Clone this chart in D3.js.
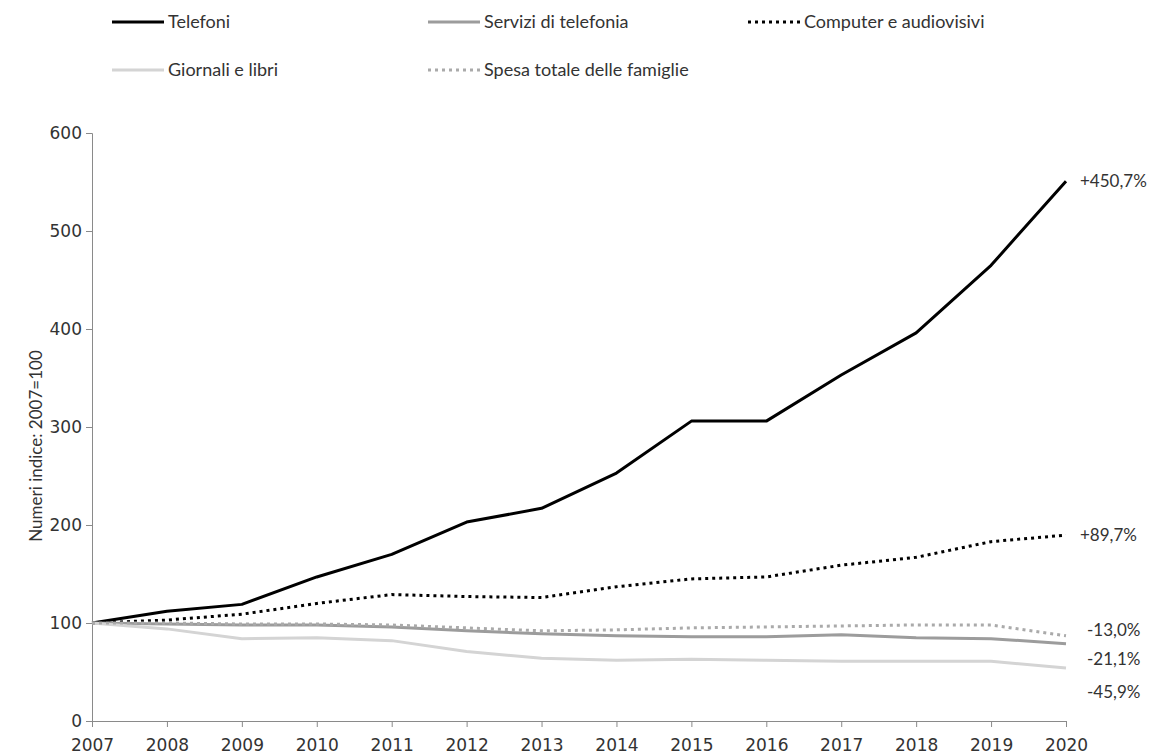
<!DOCTYPE html>
<html>
<head>
<meta charset="utf-8">
<script src="https://cdn.jsdelivr.net/npm/d3@7"></script>
<style>
  html, body { margin: 0; padding: 0; background: #ffffff; }
  svg { display: block; }
</style>
</head>
<body>
<svg id="chart" width="1154" height="755"></svg>
<script>
// ---------- DATA ----------
const years = [2007, 2008, 2009, 2010, 2011, 2012, 2013, 2014, 2015, 2016, 2017, 2018, 2019, 2020];
const yTicks = [0, 100, 200, 300, 400, 500, 600];
const seriesNames = ["Telefoni", "Servizi di telefonia", "Computer e audiovisivi", "Giornali e libri", "Spesa totale delle famiglie"];
const telefoni  = [100, 112, 119, 147, 170, 203, 217, 253, 306, 306, 353, 396, 465, 550.7];
const servizi   = [100, 99, 98, 98, 96, 92, 89, 87, 86, 86, 88, 85, 84, 78.9];
const computer  = [100, 103, 109, 120, 129, 127, 126, 137, 145, 147, 159, 167, 183, 189.7];
const giornali  = [100, 94, 84, 85, 82, 71, 64, 62, 63, 62, 61, 61, 61, 54.1];
const spesa     = [100, 100, 99, 99, 98, 95, 92, 93, 95, 96, 97, 98, 98, 87.0];
const yTitle = "Numeri indice: 2007=100";

// ---------- STYLES ----------
const styles = [
  { values: telefoni, color: "#000000", dash: null,  width: 3, labelDy: 0,  labelX: 14 },
  { values: servizi,  color: "#9c9c9c", dash: null,  width: 3, labelDy: 15, labelX: 21 },
  { values: computer, color: "#000000", dash: "3 4", width: 3, labelDy: 0,  labelX: 14 },
  { values: giornali, color: "#d4d4d4", dash: null,  width: 3, labelDy: 24, labelX: 21 },
  { values: spesa,    color: "#aaaaaa", dash: "3 4", width: 3, labelDy: -6, labelX: 21 }
];
const legendPos = [
  { x: 112, y: 22 }, { x: 428, y: 22 }, { x: 748, y: 22 },
  { x: 112, y: 70 }, { x: 428, y: 70 }
];

const svg = d3.select("#chart");
const x = d3.scaleLinear().domain([2007, 2020]).range([92, 1066]);
const y = d3.scaleLinear().domain([0, 600]).range([721, 133]);

const axisColor = "#8a8a8a";
const textColor = "#333333";
const tickFont = "'DejaVu Sans', Verdana, sans-serif";

// Y axis
const gy = svg.append("g").attr("transform", "translate(92,0)")
  .call(d3.axisLeft(y).tickValues(yTicks).tickSize(6).tickPadding(4).tickFormat(d3.format("d")));
gy.select(".domain").attr("stroke", axisColor);
gy.selectAll(".tick line").attr("stroke", axisColor);
gy.selectAll(".tick text").attr("fill", textColor).style("font-family", tickFont).style("font-size", "17px");

// X axis
const gx = svg.append("g").attr("transform", "translate(0,721)")
  .call(d3.axisBottom(x).tickValues(years).tickSize(6).tickPadding(12).tickFormat(d3.format("d")));
gx.select(".domain").attr("stroke", axisColor);
gx.selectAll(".tick line").attr("stroke", axisColor);
gx.selectAll(".tick text").attr("fill", textColor).style("font-family", tickFont).style("font-size", "17px");

// Y title
svg.append("text")
  .attr("transform", "translate(42,446) rotate(-90)")
  .attr("text-anchor", "middle")
  .attr("fill", textColor)
  .style("font-family", "Lato, sans-serif")
  .style("font-size", "17px")
  .text(yTitle);

// Lines
const line = d3.line().x((d, i) => x(years[i])).y(d => y(d));
styles.forEach(s => {
  svg.append("path")
    .datum(s.values)
    .attr("fill", "none")
    .attr("stroke", s.color)
    .attr("stroke-width", s.width)
    .attr("stroke-linejoin", "round")
    .attr("stroke-dasharray", s.dash)
    .attr("d", line);
});

// End labels
const fmt = v => {
  const p = v - 100;
  const s = Math.abs(p).toFixed(1).replace(".", ",");
  return (p >= 0 ? "+" : "-") + s + "%";
};
styles.forEach(s => {
  const last = s.values[s.values.length - 1];
  svg.append("text")
    .attr("x", x(2020) + s.labelX)
    .attr("y", y(last) + s.labelDy)
    .attr("dy", "0.35em")
    .attr("fill", textColor)
    .style("font-family", "Lato, sans-serif")
    .style("font-size", "17px")
    .text(fmt(last));
});

// Legend
seriesNames.forEach((name, k) => {
  const s = styles[k], p = legendPos[k];
  svg.append("line")
    .attr("x1", p.x).attr("x2", p.x + 52)
    .attr("y1", p.y).attr("y2", p.y)
    .attr("stroke", s.color).attr("stroke-width", s.width)
    .attr("stroke-dasharray", s.dash);
  svg.append("text")
    .attr("x", p.x + 56).attr("y", p.y).attr("dy", "0.35em")
    .attr("fill", textColor)
    .style("font-family", "Lato, sans-serif")
    .style("font-size", "18px")
    .text(name);
});
</script>
</body>
</html>
